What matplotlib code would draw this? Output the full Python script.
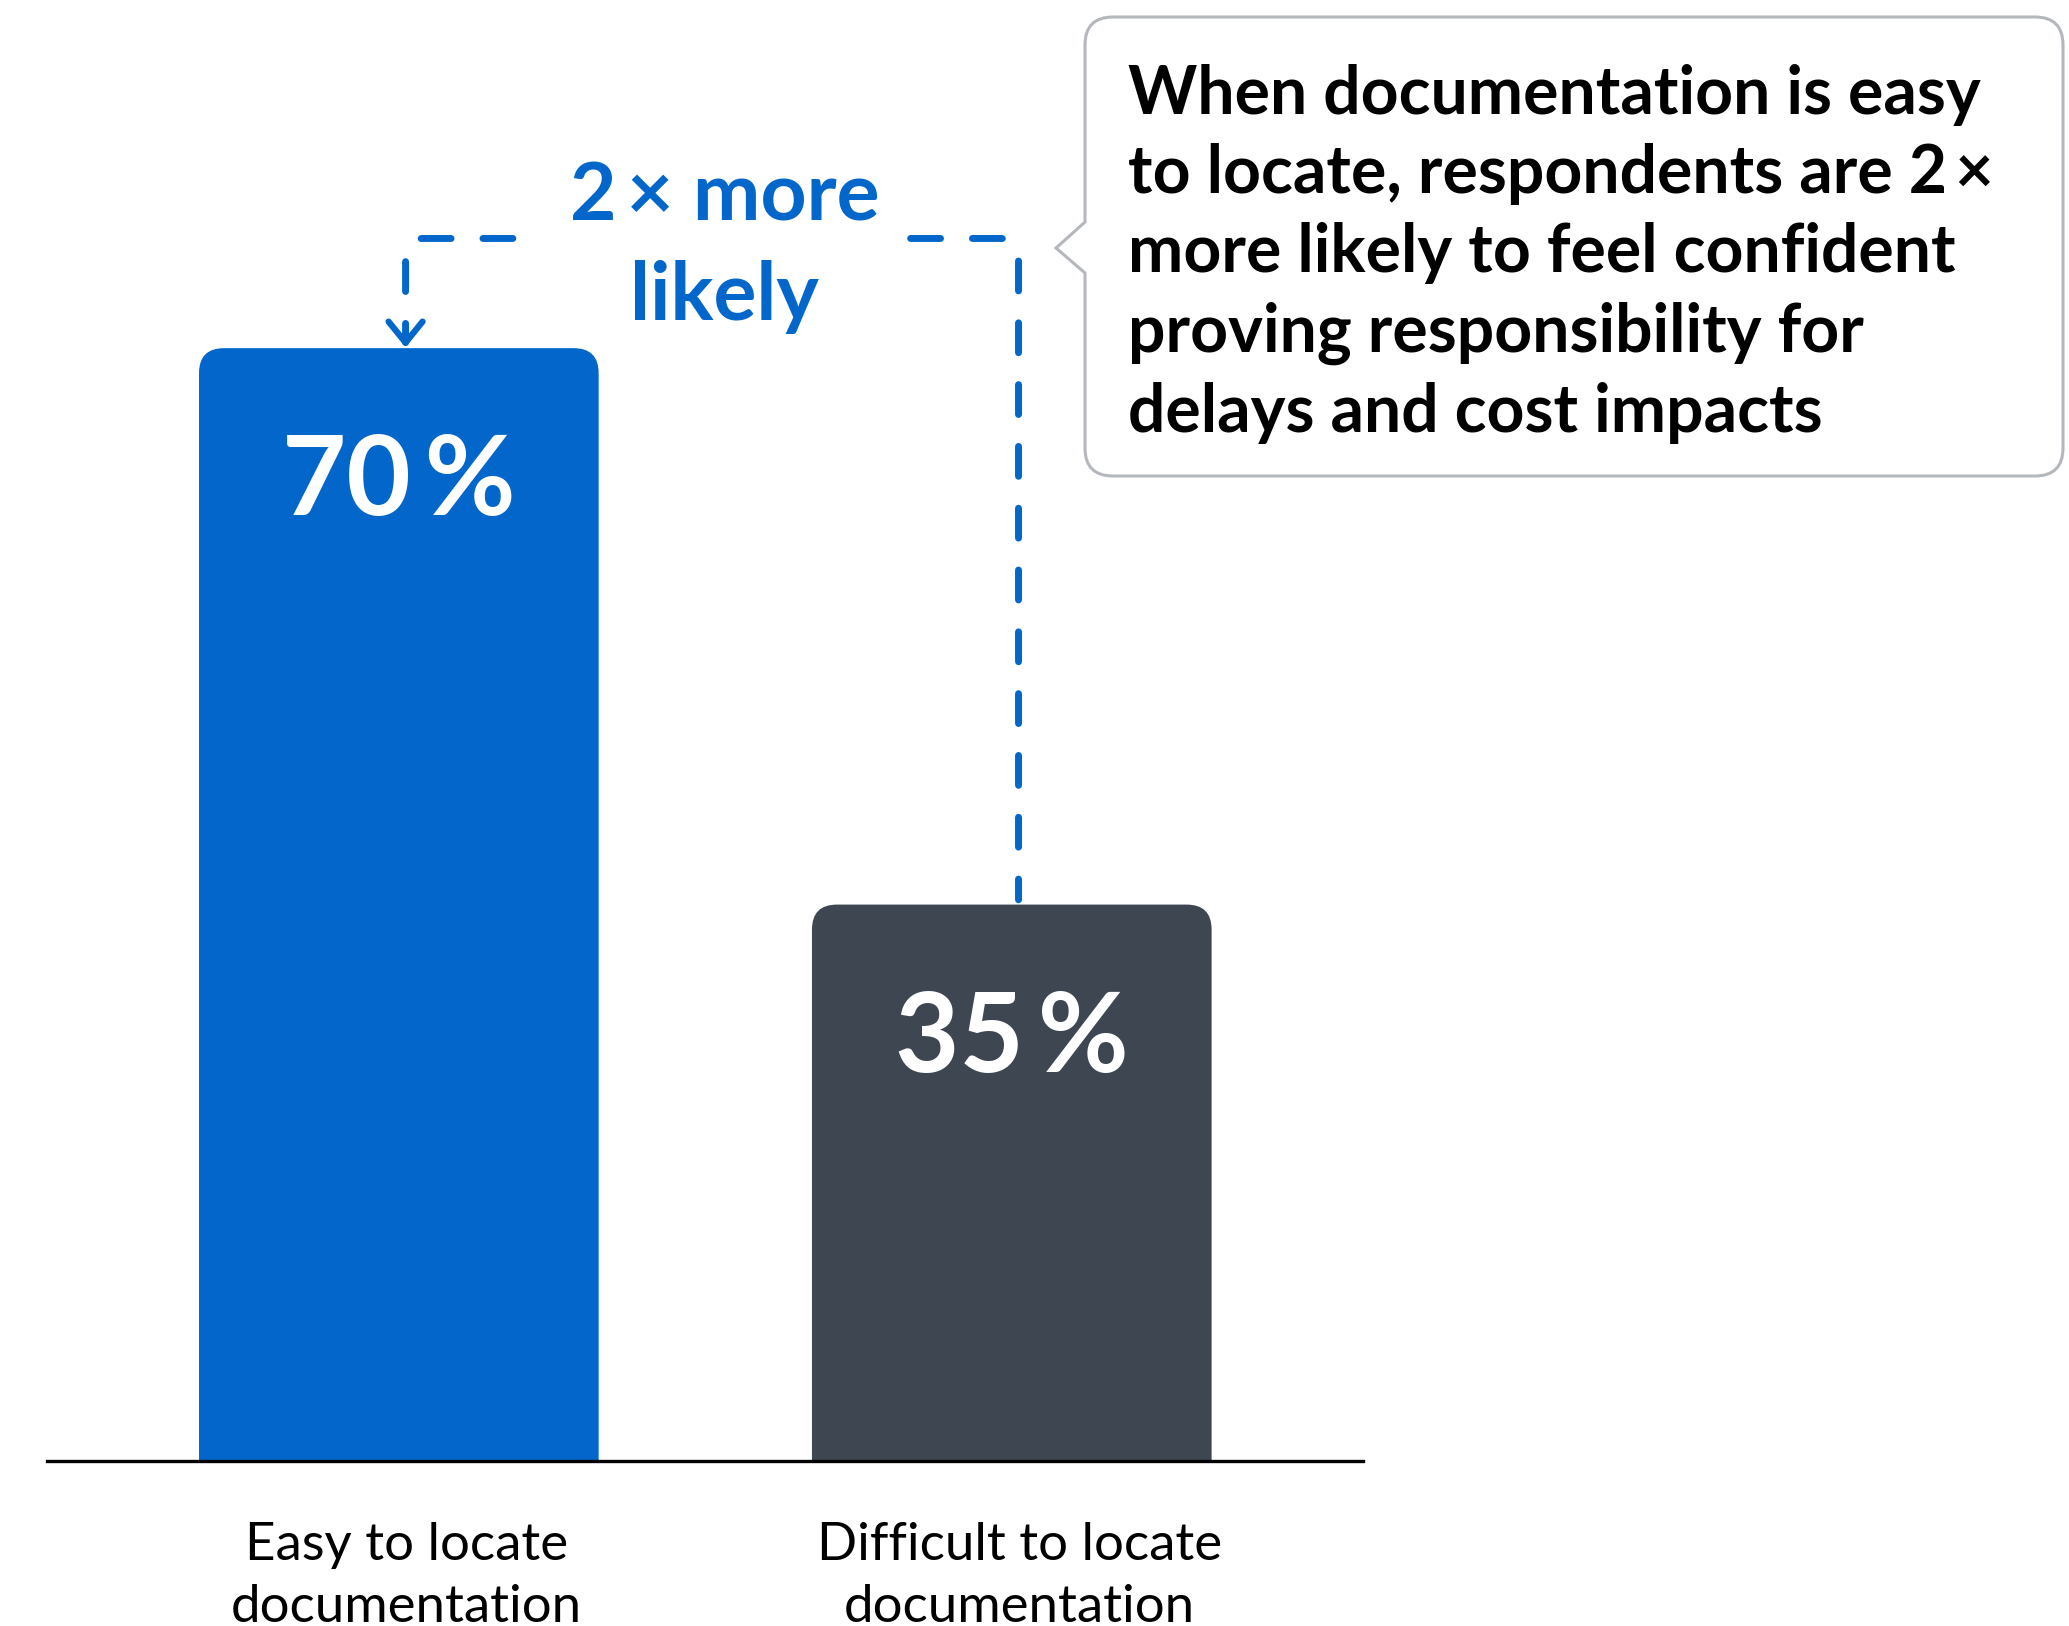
import matplotlib
matplotlib.use('Agg')
import matplotlib.pyplot as plt
from matplotlib.path import Path
from matplotlib.patches import PathPatch

plt.rcParams['font.family'] = ['Lato', 'DejaVu Sans']

categories = ['Easy to locate\ndocumentation', 'Difficult to locate\ndocumentation']
values = [70, 35]
value_labels = ['70\u2009%', '35\u2009%']
ratio_label = '2\u2009\u00d7 more\nlikely'
callout = ('When documentation is easy\n'
           'to locate, respondents are 2\u2009\u00d7\n'
           'more likely to feel confident\n'
           'proving responsibility for\n'
           'delays and cost impacts')

BLUE = '#0266CA'
DARK = '#3D4651'
bar_colors = [BLUE, DARK]

W, H = 2069, 1626
fig = plt.figure(figsize=(W / 100, H / 100), dpi=100)

# main axes: baseline at 1461 px from top, spans 47..1363 px
ax = fig.add_axes([47 / W, (H - 1461) / H, 1316 / W, 1461 / H])
xlim = (-0.574, 1.573)
ylim = (0, 91.9)
ax.set_xlim(*xlim)
ax.set_ylim(*ylim)
px_x = 1316 / (xlim[1] - xlim[0])
px_y = 1461 / (ylim[1] - ylim[0])

x = list(range(len(values)))
bars = ax.bar(x, values, width=0.652, color=bar_colors)


def rounded_top(x0, x1, y0, y1, r):
    rx, ry = r / px_x, r / px_y
    verts = [(x0, y0), (x0, y1 - ry), (x0, y1), (x0 + rx, y1),
             (x1 - rx, y1), (x1, y1), (x1, y1 - ry), (x1, y0), (x0, y0)]
    codes = [Path.MOVETO, Path.LINETO, Path.CURVE3, Path.CURVE3,
             Path.LINETO, Path.CURVE3, Path.CURVE3, Path.LINETO, Path.CLOSEPOLY]
    return Path(verts, codes)


for b, c in zip(bars, bar_colors):
    b.set_visible(False)
    x0, w, h = b.get_x(), b.get_width(), b.get_height()
    ax.add_patch(PathPatch(rounded_top(x0, x0 + w, 0, h, 25), fc=c, ec='none', zorder=2))

for i, (v, lab) in enumerate(zip(values, value_labels)):
    ax.text(i, v - 10.5, lab, ha='center', va='baseline', color='white',
            fontsize=80, fontweight='bold')

# baseline refers to the last line of a multi-line text
for i, cat in enumerate(categories):
    ax.text(i + 0.013, -10.1, cat, ha='center', va='baseline', color='black',
            fontsize=38, linespacing=1.38, clip_on=False)

# dashed connector from the small bar to the big one
off = 0.011
y_top = 76.9
r = 18
rx, ry = r / px_x, r / px_y
xl, xr = x[0] + off, x[1] + off
left = Path([(0.186, y_top), (xl + rx, y_top), (xl, y_top), (xl, y_top - ry), (xl, values[0] + 0.35)],
            [Path.MOVETO, Path.LINETO, Path.CURVE3, Path.CURVE3, Path.LINETO])
right = Path([(0.835, y_top), (xr - rx, y_top), (xr, y_top), (xr, y_top - ry), (xr, values[1] + 0.3)],
             [Path.MOVETO, Path.LINETO, Path.CURVE3, Path.CURVE3, Path.LINETO])
for p in (left, right):
    ax.add_patch(PathPatch(p, fc='none', ec=BLUE, lw=5, ls=(0, (4.3, 4.6)),
                           capstyle='round', joinstyle='round', zorder=3))
ax.plot([xl - 17 / px_x, xl, xl + 17 / px_x],
        [values[0] + 0.35 + 21 / px_y, values[0] + 0.35, values[0] + 0.35 + 21 / px_y],
        color=BLUE, lw=4.5, solid_capstyle='round', solid_joinstyle='round', zorder=3)

ax.text(0.532, 71.8, ratio_label, ha='center', va='baseline', color=BLUE,
        fontsize=58, fontweight='bold', linespacing=1.42)

for s in ['top', 'right', 'left']:
    ax.spines[s].set_visible(False)
ax.spines['bottom'].set_linewidth(2.4)
ax.spines['bottom'].set_zorder(4)
ax.set_xticks([])
ax.set_yticks([])
ax.patch.set_visible(False)

# callout box, drawn in pixel coordinates
ov = fig.add_axes([0, 0, 1, 1])
ov.set_xlim(0, W)
ov.set_ylim(H, 0)
ov.axis('off')
ov.patch.set_visible(False)

bl, br, bt, bb, br_ = 1085, 2063, 17, 476, 28
box = Path([(bl, bt + br_), (bl, bt), (bl + br_, bt),
            (br - br_, bt), (br, bt), (br, bt + br_),
            (br, bb - br_), (br, bb), (br - br_, bb),
            (bl + br_, bb), (bl, bb), (bl, bb - br_),
            (bl, 273), (1056, 248), (bl, 222), (bl, bt + br_)],
           [Path.MOVETO, Path.CURVE3, Path.CURVE3,
            Path.LINETO, Path.CURVE3, Path.CURVE3,
            Path.LINETO, Path.CURVE3, Path.CURVE3,
            Path.LINETO, Path.CURVE3, Path.CURVE3,
            Path.LINETO, Path.LINETO, Path.LINETO, Path.CLOSEPOLY])
ov.add_patch(PathPatch(box, fc='white', ec='#B4B8BD', lw=2.2, joinstyle='miter'))
ov.text(1128, 432, callout, ha='left', va='baseline', color='black',
        fontsize=47.5, fontweight='bold', linespacing=1.345)

fig.savefig('out.png', dpi=100)
